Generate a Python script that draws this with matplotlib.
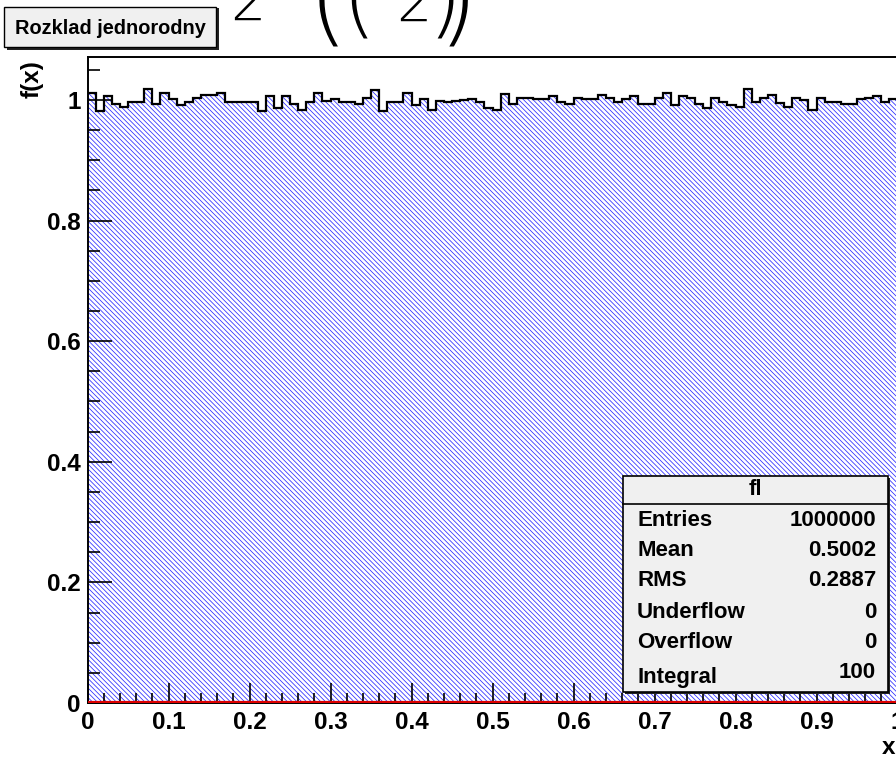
import numpy as np
import matplotlib.pyplot as plt
from matplotlib.patches import Rectangle

# histogram "fl": 100 bins on [0, 1], normalised so the integral is 100
edges = np.linspace(0.0, 1.0, 101)
counts = [1.011, 0.981, 1.007, 0.993, 0.989, 0.997, 0.997, 1.018, 0.993, 1.011,
          1.001, 0.991, 0.997, 1.004, 1.008, 1.008, 1.011, 0.997, 0.997, 0.997,
          0.996, 0.981, 1.007, 0.987, 1.007, 0.994, 0.983, 0.997, 1.011, 0.998,
          1.001, 0.997, 0.997, 0.994, 1.003, 1.016, 0.981, 0.997, 0.997, 1.011,
          0.992, 1.001, 0.983, 0.998, 0.997, 0.998, 1.000, 1.002, 0.997, 0.986,
          0.983, 1.010, 0.993, 1.004, 1.003, 1.002, 1.002, 1.007, 0.997, 0.994,
          1.004, 1.001, 1.001, 1.008, 1.003, 0.997, 1.002, 1.007, 0.993, 0.994,
          1.003, 1.012, 0.992, 1.007, 1.003, 0.993, 0.987, 1.004, 0.997, 0.991,
          0.989, 1.018, 0.996, 1.004, 1.008, 0.995, 0.988, 1.003, 1.000, 0.983,
          1.004, 0.996, 0.996, 0.993, 0.993, 1.001, 1.003, 1.006, 0.996, 1.001]

stats_names = ["Entries", "Mean", "RMS", "Underflow", "Overflow", "Integral"]
stats_values = ["1000000", "0.5002", "0.2887", "0", "0", "100"]

W, H = 896, 757
plt.rcParams['font.family'] = ['Liberation Sans', 'DejaVu Sans']
plt.rcParams['font.weight'] = 'bold'
plt.rcParams['hatch.linewidth'] = 0.55

fig = plt.figure(figsize=(W / 100, H / 100), dpi=100)
fig.patch.set_facecolor('white')


def fx(px):
    return px / W


def fy(py):
    return 1 - py / H


ax = fig.add_axes([fx(87.5), fy(703), fx(897.5) - fx(87.5), fy(57) - fy(703)])

ax.stairs(counts, edges, fill=True, facecolor='white', edgecolor='#2a2aff',
          hatch='\\' * 7, linewidth=0)
ax.stairs(counts, edges, color='black', linewidth=1.6, baseline=None)
ax.axhline(0.0015, color='#dd0000', linewidth=1.6, zorder=3)

ax.set_xlim(0, 1)
ax.set_ylim(0, 1.0713)
ax.set_xticks(np.arange(0, 1.01, 0.1))
ax.set_xticks(np.arange(0, 1.001, 0.02), minor=True)
ax.set_yticks(np.arange(0, 1.01, 0.2))
ax.set_yticks(np.arange(0, 1.06, 0.05), minor=True)
ax.xaxis.set_major_formatter(plt.FormatStrFormatter('%g'))
ax.yaxis.set_major_formatter(plt.FormatStrFormatter('%g'))
ax.tick_params(axis='x', which='major', direction='in', length=14.5, width=1.2,
               labelsize=17.5, pad=6)
ax.tick_params(axis='x', which='minor', direction='in', length=7.2, width=1.2)
ax.tick_params(axis='y', which='major', direction='in', length=17, width=1.2,
               labelsize=17.5, pad=5)
ax.tick_params(axis='y', which='minor', direction='in', length=8.6, width=1.2)
for s in ax.spines.values():
    s.set_linewidth(1.4)

fig.text(fx(32), fy(79), "f(x)", rotation=90, fontsize=17.5, ha='center', va='center')
fig.text(fx(895), fy(748), "x", fontsize=17.5, ha='right', va='center')

# title box
fig.add_artist(Rectangle((fx(7), fy(50)), fx(212), fy(7) - fy(50) - 0.001,
                         transform=fig.transFigure, facecolor='#222222', edgecolor='none'))
fig.add_artist(Rectangle((fx(4), fy(47)), fx(212), fy(7) - fy(47),
                         transform=fig.transFigure, facecolor='#f0f0f0',
                         edgecolor='black', linewidth=1.0))
fig.text(fx(110), fy(28), "Rozklad jednorodny", fontsize=14.4, ha='center', va='center')

# stats box
bx0, bx1, by0, by1 = 623, 888, 476, 692
fig.add_artist(Rectangle((fx(bx0 + 2), fy(by1 + 2)), fx(bx1 - bx0), fy(by0) - fy(by1),
                         transform=fig.transFigure, facecolor='#222222', edgecolor='none',
                         zorder=5))
fig.add_artist(Rectangle((fx(bx0), fy(by1)), fx(bx1 - bx0), fy(by0) - fy(by1),
                         transform=fig.transFigure, facecolor='#f0f0f0',
                         edgecolor='black', linewidth=1.2, zorder=6))
fig.add_artist(plt.Line2D([fx(bx0), fx(bx1)], [fy(504), fy(504)],
                          transform=fig.transFigure, color='black', linewidth=1.2,
                          zorder=7))
fig.text(fx(755), fy(489), "fl", fontsize=16, ha='center', va='center', zorder=8)
row_y = [520, 550, 580, 613, 643, 677]
for name, val, yy in zip(stats_names, stats_values, row_y):
    fig.text(fx(637), fy(yy), name, fontsize=16, ha='left', va='center', zorder=8)
    fig.text(fx(876), fy(yy - 4 if name == "Integral" else yy), val, fontsize=16,
             ha='right', va='center', zorder=8)

# cropped formula at the top edge
thin = dict(family='DejaVu Sans', weight=200, color='black')
fig.text(fx(230), fy(20), "2", fontsize=40, ha='left', va='baseline', **thin)
fig.text(fx(396), fy(21), "2", fontsize=40, ha='left', va='baseline', **thin)
fig.text(fx(308), fy(32), "(", fontsize=75, ha='left', va='baseline', **thin)
fig.text(fx(341), fy(27), "(", fontsize=64, ha='left', va='baseline', **thin)
fig.text(fx(427), fy(27), ")", fontsize=64, ha='left', va='baseline', **thin)
fig.text(fx(438), fy(32), ")", fontsize=75, ha='left', va='baseline', **thin)

fig.savefig("out.png", dpi=100)
